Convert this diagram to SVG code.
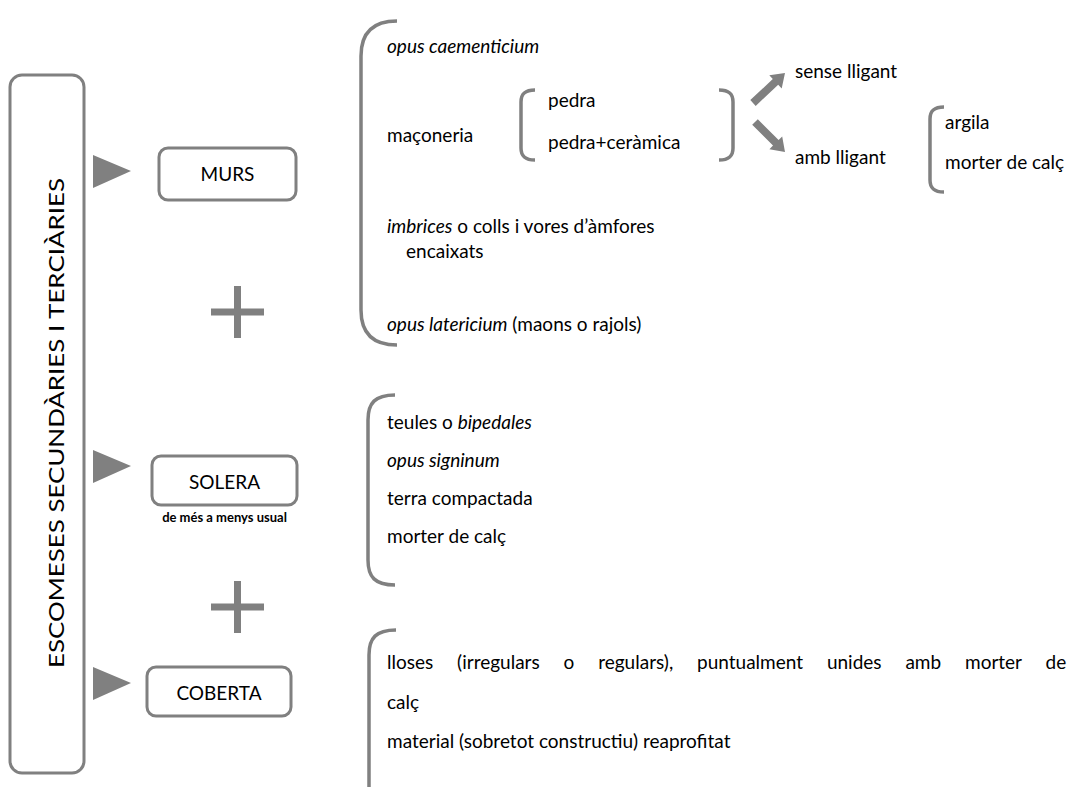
<svg xmlns="http://www.w3.org/2000/svg" width="1090" height="787" viewBox="0 0 1090 787">
<style>
.box{fill:#fff;stroke:#808080;stroke-width:3}
.br{fill:none;stroke:#808080;stroke-width:3.5}
.tri{fill:#808080}
.t{font-family:Lato,"Liberation Sans",Arial,sans-serif;font-size:19px;fill:#000}
.c{text-anchor:middle}
.i{font-style:italic}
.plus{stroke:#808080;stroke-width:7}
</style>
<rect width="1090" height="787" fill="#fff"/>

<g id="main">
<rect class="box" x="10" y="75" width="74" height="698" rx="12"/>
<text class="t c" transform="translate(64,423) rotate(-90)" style="font-size:21px" textLength="490" lengthAdjust="spacingAndGlyphs">ESCOMESES SECUNDÀRIES I TERCIÀRIES</text>
</g>

<g id="connectors">
<path class="tri" d="M93,155 L93,188 L131,171 Z"/>
<path class="tri" d="M93,450 L93,483 L131,466 Z"/>
<path class="tri" d="M93,667 L93,700 L131,683 Z"/>
<path class="tri" d="M755.7,105.9 L778.2,84.8 L781.7,88.5 L785,73 L769.3,75.3 L772.8,79 L750.3,100.1 Z"/>
<path class="tri" d="M757.8,119.2 L778.6,140 L782.2,136.4 L785,152 L769.4,149.2 L773,145.6 L752.2,124.8 Z"/>
</g>

<g id="plus1"><line class="plus" x1="211" y1="312" x2="264" y2="312"/><line class="plus" x1="237.5" y1="286" x2="237.5" y2="338"/></g>
<g id="plus2"><line class="plus" x1="211" y1="607" x2="264" y2="607"/><line class="plus" x1="237.5" y1="581" x2="237.5" y2="633"/></g>

<g id="murs">
<rect class="box" x="159" y="148" width="137" height="52" rx="9"/>
<text class="t c" x="227.5" y="181">MURS</text>
</g>

<g id="solera">
<rect class="box" x="152" y="456" width="145" height="49" rx="9"/>
<text class="t c" x="224.5" y="489">SOLERA</text>
<text class="t c" x="224.5" y="522" style="font-size:13px;font-weight:bold">de més a menys usual</text>
</g>

<g id="coberta">
<rect class="box" x="147" y="667" width="144" height="49" rx="9"/>
<text class="t c" x="219" y="700">COBERTA</text>
</g>

<g id="murs-list">
<path class="br" d="M397,21 C373,21 361,33 361,56 L361,310 C361,333 373,345 397,345"/>
<text class="t i" x="387" y="53">opus caementicium</text>
<text class="t" x="387" y="142">maçoneria</text>
<text class="t" x="387" y="233"><tspan font-style="italic">imbrices</tspan> o colls i vores d’àmfores</text>
<text class="t" x="406" y="258">encaixats</text>
<text class="t" x="387" y="331"><tspan font-style="italic">opus latericium</tspan> (maons o rajols)</text>
</g>

<g id="pedra">
<path class="br" d="M535,90 C525,90 521,94 521,102 L521,148 C521,156 525,160 535,160"/>
<path class="br" d="M719,90 C729,90 733,94 733,102 L733,148 C733,156 729,160 719,160"/>
<text class="t" x="548" y="107">pedra</text>
<text class="t" x="548" y="149">pedra+ceràmica</text>
</g>

<g id="lligant">
<text class="t" x="795" y="78">sense lligant</text>
<text class="t" x="795" y="164">amb lligant</text>
</g>

<g id="argila">
<path class="br" d="M944,107 C934,107 930,111 930,119 L930,180 C930,188 934,192 944,192"/>
<text class="t" x="945" y="129">argila</text>
<text class="t" x="945" y="169">morter de calç</text>
</g>

<g id="solera-list">
<path class="br" d="M395,395 C375,395 368,403 368,420 L368,560 C368,577 375,585 395,585"/>
<text class="t" x="387" y="429">teules o <tspan font-style="italic">bipedales</tspan></text>
<text class="t i" x="387" y="467">opus signinum</text>
<text class="t" x="387" y="505">terra compactada</text>
<text class="t" x="387" y="543">morter de calç</text>
</g>

<g id="coberta-list">
<path class="br" d="M396,630 C376,630 369,638 369,655 L369,787"/>
<text class="t" x="387" y="669" style="word-spacing:19px">lloses (irregulars o regulars), puntualment unides amb morter de</text>
<text class="t" x="387" y="709">calç</text>
<text class="t" x="387" y="748">material (sobretot constructiu) reaprofitat</text>
</g>
</svg>
